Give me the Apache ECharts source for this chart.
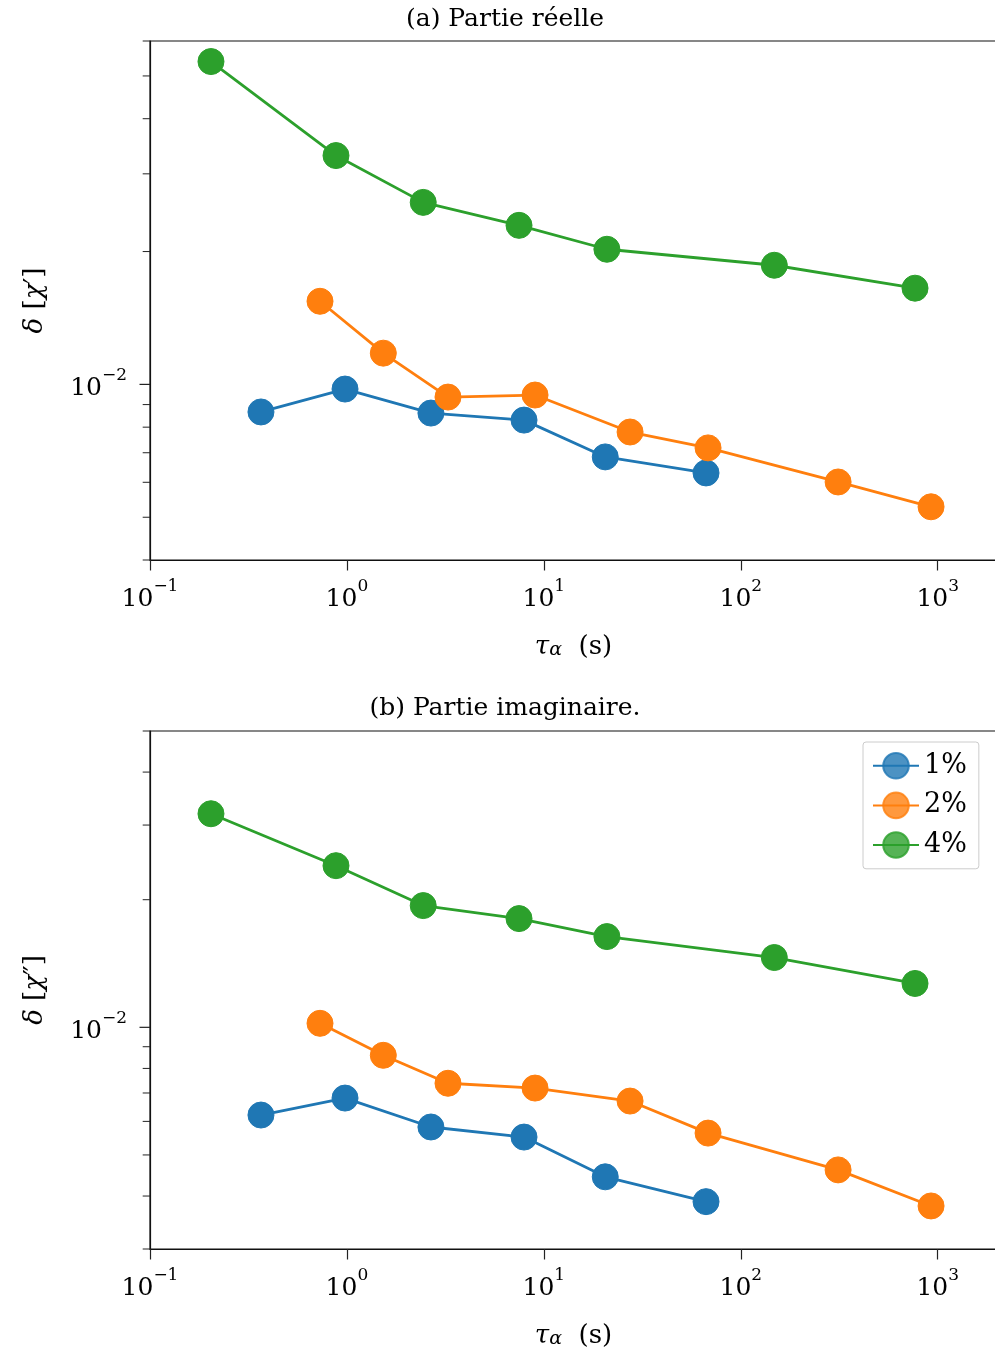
<!DOCTYPE html>
<html><head><meta charset="utf-8">
<script src="https://cdn.jsdelivr.net/npm/echarts@6/dist/echarts.min.js"></script>
<style>html,body{margin:0;padding:0;background:#fff}#c{width:995px;height:1355px}</style>
</head><body><div id="c"></div>
<script>
// ---------- data ----------
const seriesNames = ['1%', '2%', '4%'];
const colors = ['#1f77b4', '#ff7f0e', '#2ca02c'];

const tau1 = [0.366, 0.978, 2.67, 7.93, 20.5, 66.6];
const tau2 = [0.730, 1.53, 3.26, 9.02, 27.4, 68.2, 312, 925];
const tau4 = [0.204, 0.880, 2.44, 7.48, 20.9, 148, 767];

// (a) real part  delta[chi']
const re1 = [0.00866, 0.00976, 0.00861, 0.00830, 0.00685, 0.00630];
const re2 = [0.01543, 0.01177, 0.00936, 0.00946, 0.00780, 0.00718, 0.00601, 0.00528];
const re4 = [0.0539, 0.0330, 0.02585, 0.02293, 0.02024, 0.01862, 0.01652];

// (b) imaginary part delta[chi'']
const im1 = [0.00621, 0.00681, 0.00582, 0.00551, 0.00444, 0.00388];
const im2 = [0.01022, 0.00859, 0.00738, 0.00719, 0.00670, 0.00563, 0.00461, 0.00379];
const im4 = [0.0319, 0.02406, 0.01937, 0.01805, 0.01637, 0.01461, 0.01269];

const xRange = [0.1, 2000];
const yRangeTop = [0.004, 0.06];
const yRangeBottom = [0.003, 0.05];
const yMajorTicks = [0.01];
const yMinorTop = [0.004, 0.005, 0.006, 0.007, 0.008, 0.009, 0.02, 0.03, 0.04, 0.05, 0.06];
const yMinorBottom = [0.003, 0.004, 0.005, 0.006, 0.007, 0.008, 0.009, 0.02, 0.03, 0.04, 0.05];

const titles = ['(a) Partie réelle', '(b) Partie imaginaire.'];

// ---------- chart ----------
const FONT = 'DejaVu Serif';
const chart = echarts.init(document.getElementById('c'), null, {renderer: 'canvas'});

function powLabel(v) {
  const e = Math.log10(v);
  const r = Math.round(e);
  if (Math.abs(e - r) > 1e-6) return '';
  return '{b|10}{s|' + (r < 0 ? '\u2212' + (-r) : String(r)) + '}';
}
const richPow = {
  b: {fontFamily: FONT, fontSize: 25, lineHeight: 34, verticalAlign: 'bottom', color: '#000'},
  s: {fontFamily: FONT, fontSize: 17, lineHeight: 18, verticalAlign: 'top', color: '#000'}
};
const richName = {
  i: {fontFamily: FONT, fontStyle: 'italic', fontSize: 26, lineHeight: 34, verticalAlign: 'bottom', color: '#000'},
  r: {fontFamily: FONT, fontSize: 26, lineHeight: 34, verticalAlign: 'bottom', color: '#000'},
  sub: {fontFamily: FONT, fontStyle: 'italic', fontSize: 19, lineHeight: 18, verticalAlign: 'bottom', color: '#000'}
};

const grids = [
  {left: 150, top: 41, width: 847, height: 519},
  {left: 150, top: 731, width: 847, height: 518}
].map(g => Object.assign(g, {show: true, borderColor: '#111', borderWidth: 1.2, backgroundColor: 'transparent',
                             containLabel: false, outerBoundsMode: 'none'}));

function xAxisCfg(i) {
  return {
    type: 'log', logBase: 10, gridIndex: i, min: xRange[0], max: xRange[1],
    name: '{i|τ}{sub|α}{r|  (s)}', nameLocation: 'middle', nameGap: 66,
    nameTextStyle: {rich: richName},
    axisLine: {lineStyle: {color: '#111', width: 1.2}},
    axisTick: {length: 10.5, lineStyle: {color: '#222', width: 1.2}},
    minorTick: {show: false},
    splitLine: {show: false},
    axisLabel: {formatter: powLabel, rich: richPow, margin: 18}
  };
}
function yAxisCfg(i, range, nm) {
  return {
    type: 'log', logBase: 10, gridIndex: i, min: range[0], max: range[1],
    name: nm, nameLocation: 'middle', nameGap: 102, nameRotate: 90,
    nameTextStyle: {rich: richName},
    axisLine: {lineStyle: {color: '#111', width: 1.2}},
    axisTick: {show: false},
    splitLine: {show: false},
    axisLabel: {formatter: powLabel, rich: richPow, margin: 23}
  };
}

function tickSeries(i, majors, minors) {
  const data = majors.map(v => [xRange[0], v, 1]).concat(minors.map(v => [xRange[0], v, 0]));
  return {
    type: 'custom', xAxisIndex: i, yAxisIndex: i, clip: false, silent: true, z: 5,
    data: data,
    renderItem: function (params, api) {
      const p = api.coord([api.value(0), api.value(1)]);
      const major = api.value(2) === 1;
      const len = major ? 10.5 : 7.3;
      return {type: 'line', shape: {x1: p[0] - len, y1: p[1], x2: p[0], y2: p[1]},
              style: {stroke: '#222', lineWidth: major ? 1.2 : 1}};
    }
  };
}

function zip(xs, ys) { return xs.map((x, k) => [x, ys[k]]); }
function lineSeries(i, name, color, xs, ys) {
  return {
    type: 'line', name: name, xAxisIndex: i, yAxisIndex: i,
    data: zip(xs, ys), symbol: 'circle', symbolSize: 26,
    lineStyle: {color: color, width: 2.8},
    itemStyle: {color: color, borderColor: color, borderWidth: 1},
    emphasis: {disabled: true}, z: 3
  };
}

const series = [
  lineSeries(0, seriesNames[0], colors[0], tau1, re1),
  lineSeries(0, seriesNames[1], colors[1], tau2, re2),
  lineSeries(0, seriesNames[2], colors[2], tau4, re4),
  lineSeries(1, seriesNames[0], colors[0], tau1, im1),
  lineSeries(1, seriesNames[1], colors[1], tau2, im2),
  lineSeries(1, seriesNames[2], colors[2], tau4, im4),
  tickSeries(0, yMajorTicks, yMinorTop),
  tickSeries(1, yMajorTicks, yMinorBottom)
];

chart.setOption({
  animation: false,
  backgroundColor: '#fff',
  textStyle: {fontFamily: FONT},
  grid: grids,
  xAxis: [xAxisCfg(0), xAxisCfg(1)],
  yAxis: [
    yAxisCfg(0, yRangeTop, '{i|δ}{r| [}{i|χ}{r|′]}'),
    yAxisCfg(1, yRangeBottom, '{i|δ}{r| [}{i|χ}{r|″]}')
  ],
  legend: {
    data: seriesNames, orient: 'vertical', left: 863, top: 742,
    padding: [10, 12, 10, 9], itemWidth: 46, itemHeight: 32, itemGap: 12,
    backgroundColor: '#fff', borderColor: '#ccc', borderWidth: 1, borderRadius: 3,
    textStyle: {fontFamily: FONT, fontSize: 27, color: '#000'},
    itemStyle: {opacity: 0.8},
    selectedMode: false
  },
  graphic: [
    {type: 'text', x: 505, y: 19, style: {text: titles[0], x: 0, y: 0, align: 'center', verticalAlign: 'middle', font: '25px "' + FONT + '"', fill: '#000'}},
    {type: 'text', x: 505, y: 708, style: {text: titles[1], x: 0, y: 0, align: 'center', verticalAlign: 'middle', font: '25px "' + FONT + '"', fill: '#000'}}
  ],
  series: series
});
</script>
</body></html>
